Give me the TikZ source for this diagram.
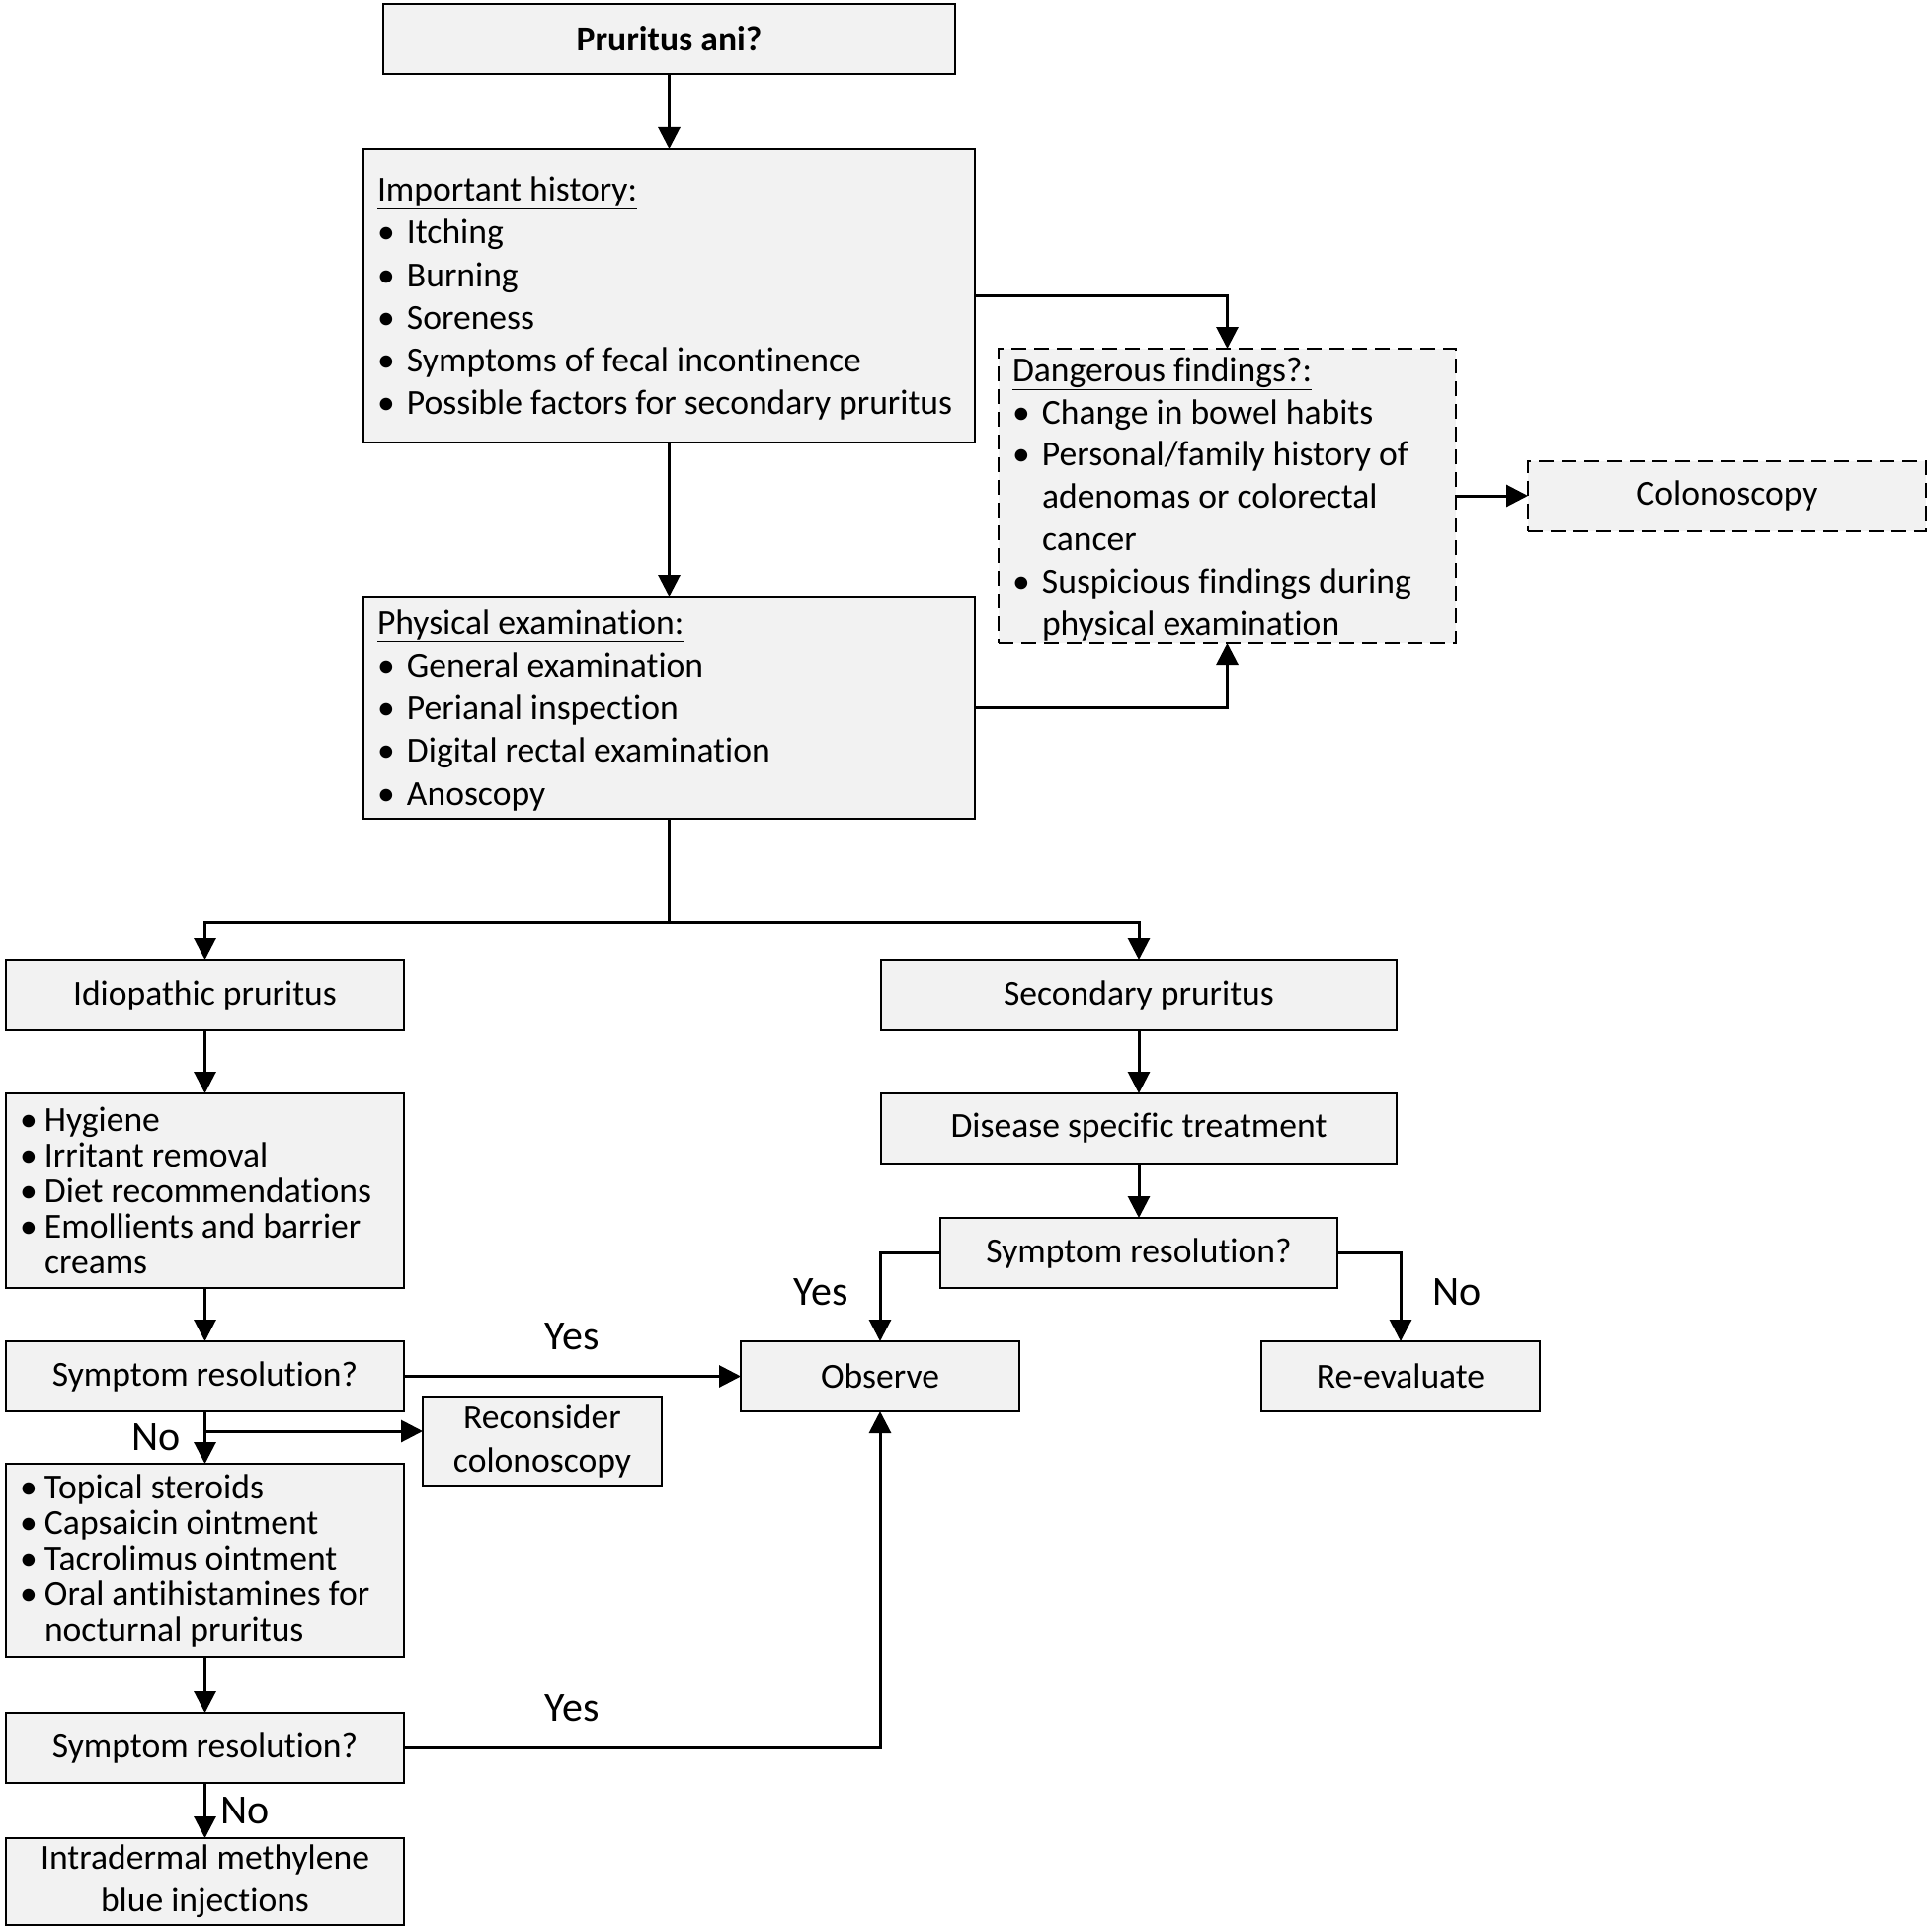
\documentclass[tikz,border=0pt]{standalone}
\usepackage{fontspec}
\setmainfont{Carlito}[Ligatures=CommonOff]
\usetikzlibrary{shapes,arrows.meta,positioning}
\definecolor{boxgray}{RGB}{242,242,242}
\tikzstyle{box} = [rectangle, draw=black, line width=2pt, fill=boxgray, text=black, inner xsep=14pt, inner ysep=0pt, outer sep=0pt, font=\fontsize{35.6}{43.2}\selectfont, align=center, minimum height=71pt]
\tikzstyle{dbox} = [box, dash pattern=on 15pt off 8pt]
\tikzstyle{tight} = [font=\fontsize{35.6}{36}\selectfont]
\tikzstyle{lbl} = [font=\fontsize{42}{50}\selectfont, inner sep=0pt]
\tikzstyle{tedge}  = [draw, line width=3pt, ->, >={Triangle[length=22pt,width=22pt]}]
\newcommand{\itm}[1]{\makebox[30pt][l]{\textbullet}#1}
\newcommand{\itmm}[1]{\makebox[25pt][l]{\textbullet}#1}
\newcommand{\head}[2]{\rule{0pt}{#1}\underline{#2}}

\begin{document}
\begin{tikzpicture}[x=1pt,y=-1pt]
\useasboundingbox (0,0) rectangle (1954,1956);

% history and examination =============================

\node[box, minimum width=579pt, font=\bfseries\fontsize{35.6}{43.2}\selectfont] (start) at (677.5,39.5) {Pruritus ani?};
\node[box, text width=591pt, align=flush left, minimum height=297pt, below=76pt of start] (hist) {\head{30pt}{Important history:}\\
  \itm{Itching}\\ \itm{Burning}\\ \itm{Soreness}\\ \itm{Symptoms of fecal incontinence}\\ \itm{Possible factors for secondary pruritus}};
\node[box, text width=591pt, align=flush left, minimum height=225pt, below=156pt of hist] (phys) {\head{30pt}{Physical examination:}\\
  \itm{General examination}\\ \itm{Perianal inspection}\\ \itm{Digital rectal examination}\\ \itm{Anoscopy}};

% red flags
\node[dbox, text width=435pt, align=flush left, minimum height=298pt, font=\fontsize{35.6}{42.8}\selectfont] (danger) at (1242.5,502) {\head{31pt}{Dangerous findings?:}\\
  \itm{Change in bowel habits}\\ \itm{Personal/family history of}\\ \hspace*{30pt}adenomas or colorectal\\ \hspace*{30pt}cancer\\
  \itm{Suspicious findings during}\\ \hspace*{30pt}physical examination};
\node[dbox, minimum width=403pt, right=73pt of danger] (colo) {Colonoscopy};

% idiopathic branch
\node[box, minimum width=403pt] (idio) at (207.5,1007.5) {Idiopathic pruritus};
\node[box, tight, text width=375pt, align=flush left, minimum height=197pt, below=64pt of idio] (care1) {\itmm{Hygiene}\\ \itmm{Irritant removal}\\
  \itmm{Diet recommendations}\\ \itmm{Emollients and barrier}\\ \hspace*{25pt}creams};
\node[box, minimum width=403pt, below=54pt of care1] (res1) {Symptom resolution?};
\node[box, tight, text width=375pt, align=flush left, minimum height=196pt, below=53pt of res1] (care2) {\itmm{Topical steroids}\\ \itmm{Capsaicin ointment}\\
  \itmm{Tacrolimus ointment}\\ \itmm{Oral antihistamines for}\\ \hspace*{25pt}nocturnal pruritus};
\node[box, minimum width=403pt, below=56pt of care2] (res2) {Symptom resolution?};
\node[box, minimum width=403pt, minimum height=88pt, below=56pt of res2] (inject) {Intradermal methylene\\blue injections};
\node[box, minimum width=242pt, minimum height=90pt] (recon) at (549,1459) {Reconsider\\colonoscopy};

% secondary branch
\node[box, minimum width=522pt] (sec) at (1153,1007.5) {Secondary pruritus};
\node[box, minimum width=522pt, below=64pt of sec] (spec) {Disease specific treatment};
\node[box, minimum width=402pt, below=55pt of spec] (res3) {Symptom resolution?};
\node[box, minimum width=282pt] (obs) at (891,1393.5) {Observe};
\node[box, minimum width=282pt] (reeval) at (1418,1393.5) {Re-evaluate};

% answers
\node[lbl] (yes1) at (579,1353) {Yes};
\node[lbl] (no1) at (158,1455) {No};
\node[lbl] (yes2) at (579,1729) {Yes};
\node[lbl] (no2) at (248,1833) {No};
\node[lbl] (yes3) at (831,1308) {Yes};
\node[lbl] (no3) at (1475,1308) {No};

%edges
\coordinate (split) at (677.5,933);
\coordinate (nobr) at (207.5,1449);

\path[tedge] (start) -- (hist);
\path[tedge] (hist) -- (phys);
\path[tedge] (hist.east) -| (danger.north);
\path[tedge] (phys.east) -| (danger.south);
\path[tedge] (danger) -- (colo);
\draw[line width=3pt] (phys.south) -- (split);
\path[tedge] (split) -| (idio.north);
\path[tedge] (split) -| (sec.north);

\path[tedge] (idio) -- (care1);
\path[tedge] (care1) -- (res1);
\path[tedge] (res1) -- (obs);
\path[tedge] (res1) -- (care2);
\path[tedge] (nobr) -- (nobr -| recon.west);
\path[tedge] (care2) -- (res2);
\path[tedge] (res2) -- (inject);
\path[tedge] (res2.east) -| (obs.south);

\path[tedge] (sec) -- (spec);
\path[tedge] (spec) -- (res3);
\path[tedge] (res3.west) -| (obs.north);
\path[tedge] (res3.east) -| (reeval.north);

\end{tikzpicture}
\end{document}
